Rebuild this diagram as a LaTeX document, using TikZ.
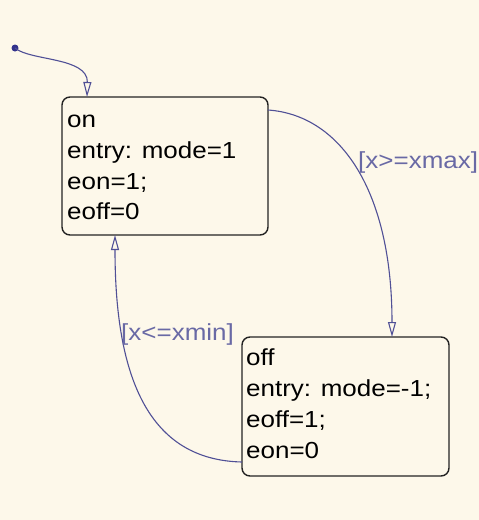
\documentclass[tikz,border=0pt]{standalone}
\usepackage{fontspec}
\setmainfont{Liberation Sans}[FakeStretch=1.12]
\usetikzlibrary{arrows.meta,calc}
\definecolor{paper}{RGB}{253,248,234}
\definecolor{wire}{RGB}{80,80,150}
\definecolor{guard}{RGB}{105,105,165}
\definecolor{rim}{RGB}{35,35,35}
\definecolor{dotblue}{RGB}{50,50,140}

\tikzset{
  statebox/.style={draw=rim, line width=1.4pt, rounded corners=8pt,
    fill=paper, inner sep=0pt, outer sep=0pt},
  stateline/.style={anchor=base west, inner sep=0pt, text=black,
    font=\fontsize{23.2pt}{30pt}\selectfont},
  guardtext/.style={anchor=west, inner sep=0pt, text=guard,
    font=\fontsize{23.2pt}{30pt}\selectfont},
  trans/.style={draw=wire, line width=1.1pt,
    -{Triangle[open, length=15pt, width=8pt, fill=paper]}},
}

\begin{document}
\begin{tikzpicture}[x=1pt, y=-1pt]
  \fill[paper] (0,0) rectangle (479,520);
  \useasboundingbox (0,0) rectangle (479,520);

  % states
  \node[statebox, minimum width=206pt, minimum height=138pt] (on) at (165,166) {};
  \node[statebox, minimum width=207pt, minimum height=139pt] (off) at (345.5,406.5) {};

  % state texts
  \node[stateline] (on1) at (67,127.5) {on};
  \node[stateline] (on2) at (67,158) {entry: mode=1};
  \node[stateline] (on3) at (67,189) {eon=1;};
  \node[stateline] (on4) at (67,219.5) {eoff=0};

  \node[stateline] (off1) at (246,365) {off};
  \node[stateline] (off2) at (246,396) {entry: mode=-1;};
  \node[stateline] (off3) at (246,427) {eoff=1;};
  \node[stateline] (off4) at (246,458) {eon=0};

  % default transition
  \coordinate (init) at (15,48);
  \coordinate (onTop) at ($(on.north west)+(25,0)$);
  \fill[dotblue] (init) circle (3.5pt);
  \draw[trans] (init) .. controls (30,61) and (88,57) .. (onTop);

  % on -> off
  \coordinate (onOut) at ($(on.north east)+(0,13)$);
  \coordinate (offIn) at ($(off.north west)+(150,0)$);
  \draw[trans] (onOut) .. controls (340,115) and (392,190) .. (offIn);
  \node[guardtext] (gmax) at (358,162) {[x>=xmax]};

  % off -> on
  \coordinate (offOut) at ($(off.south west)+(0,-14)$);
  \coordinate (onIn) at ($(on.south west)+(53,0)$);
  \draw[trans] (offOut) .. controls (150,460) and (115,380) .. (onIn);
  \node[guardtext] (gmin) at (121,334) {[x<=xmin]};
\end{tikzpicture}
\end{document}
